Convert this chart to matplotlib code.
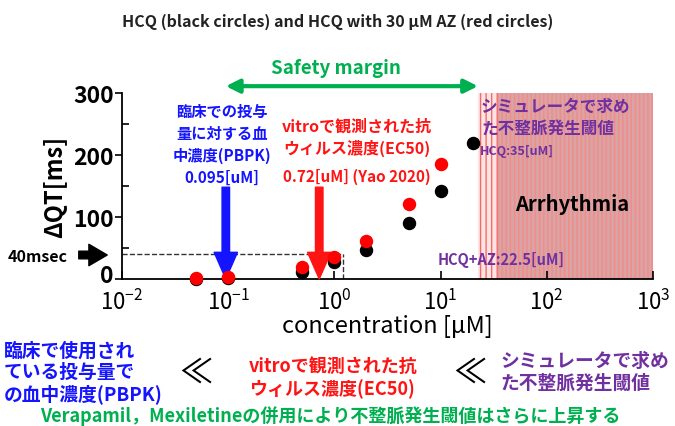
import matplotlib
matplotlib.use('Agg')
import matplotlib.pyplot as plt
import matplotlib.transforms as mtransforms
from matplotlib.ticker import FixedLocator

plt.rcParams['font.family'] = ['Noto Sans CJK JP', 'DejaVu Sans']

# QT prolongation vs concentration
conc_hcq = [0.05, 0.1, 0.5, 1, 2, 5, 10, 20]
dqt_hcq = [0, 1, 12, 27, 47, 90, 142, 219]
conc_az = [0.05, 0.1, 0.5, 1, 2, 5, 10]
dqt_az = [2, 3, 19, 36, 62, 121, 185]

pbpk_conc = 0.095
ec50_conc = 0.72
thr_hcq = 35
thr_az = 22.5
qt_limit = 40
xmax = 1000

BLUE = '#1414ff'
RED = '#ff1414'
PURPLE = '#7030a0'
GREEN = '#00b050'

fig = plt.figure(figsize=(6.75, 4.27), dpi=100)
ax = fig.add_axes([0.1807, 0.3443, 0.7867, 0.4356])


def fx(px):
    return px / 675


def fy(py):
    return 1 - py / 427


ax.set_xscale('log')
ax.set_xlim(0.01, xmax)
ax.set_ylim(0, 300)

# arrhythmia zones
ax.axvspan(thr_az, xmax, ymin=0, ymax=1, facecolor='#ffe4e4', edgecolor='#f26b6b',
           hatch='|||', lw=0, zorder=0)
ax.axvspan(thr_hcq, xmax, ymin=0, ymax=1, facecolor='#d8a4a4', edgecolor='#f58a8a',
           hatch='||||', lw=0, zorder=0)

ax.plot([0.01, 1.2], [qt_limit, qt_limit], ls='--', color='#333333', lw=1, zorder=1)
ax.plot([1.2, 1.2], [0, qt_limit], ls='--', color='#333333', lw=1, zorder=1)

ax.scatter(conc_hcq, dqt_hcq, s=75, color='black', zorder=3, clip_on=False)
ax.scatter(conc_az, dqt_az, s=75, color='red', zorder=4, clip_on=False)

ax.spines['top'].set_visible(False)
ax.spines['right'].set_visible(False)
ax.spines['left'].set_linewidth(1.3)
ax.spines['bottom'].set_linewidth(1.3)

ax.set_yticks([0, 100, 200, 300])
ax.yaxis.set_minor_locator(FixedLocator([50, 150, 250]))
ax.tick_params(axis='y', which='major', direction='out', length=5, width=1.2, labelsize=16.5, pad=1)
ax.tick_params(axis='y', which='minor', direction='in', length=5, width=1.2)
ax.set_xticks([1e-2, 1e-1, 1e0, 1e1, 1e2, 1e3])
ax.xaxis.set_minor_locator(FixedLocator([]))
ax.tick_params(axis='x', which='major', direction='in', length=6, width=1.2, labelsize=16, pad=7)
for lab in ax.get_yticklabels():
    lab.set_fontweight('bold')
# lift the "0" a little so it clears the 10^-2 label
zero_lab = ax.get_yticklabels()[0]
zero_lab.set_transform(zero_lab.get_transform() +
                       mtransforms.ScaledTranslation(0, 4 / 72, fig.dpi_scale_trans))

ax.set_xlabel('concentration [μM]', fontsize=17, labelpad=0)
ax.set_ylabel('ΔQT[ms]', fontsize=17, fontweight='bold', labelpad=4)

# title and safety margin
fig.text(fx(338), fy(22), 'HCQ (black circles) and HCQ with 30 μM AZ (red circles)',
         ha='center', va='center', fontsize=11.5, fontweight='bold', color='#222222')
fig.text(fx(336), fy(68), 'Safety margin', ha='center', va='center',
         fontsize=13.5, fontweight='bold', color=GREEN)
ax.annotate('', xy=(thr_az, 311), xytext=(pbpk_conc, 311), xycoords='data',
            arrowprops=dict(arrowstyle='<|-|>', color=GREEN, lw=3, mutation_scale=20,
                            shrinkA=0, shrinkB=0), annotation_clip=False)

# PBPK concentration
fig.text(fx(222), fy(145), '臨床での投与\n量に対する血\n中濃度(PBPK)\n0.095[uM]', ha='center',
         va='center', fontsize=11, fontweight='bold', color=BLUE, linespacing=1.45)
ax.annotate('', xy=(pbpk_conc, 0), xytext=(pbpk_conc, 148),
            arrowprops=dict(arrowstyle='simple,head_width=1.4,head_length=1.6,tail_width=0.45',
                            color=BLUE, mutation_scale=12, shrinkA=0, shrinkB=0))

# in vitro EC50
fig.text(fx(357), fy(138), 'vitroで観測された抗\nウィルス濃度(EC50)', ha='center', va='center',
         fontsize=11.5, fontweight='bold', color=RED, linespacing=1.35)
fig.text(fx(357), fy(177), '0.72[uM] (Yao 2020)', ha='center', va='center',
         fontsize=11, fontweight='bold', color=RED)
ax.annotate('', xy=(ec50_conc, 0), xytext=(ec50_conc, 148),
            arrowprops=dict(arrowstyle='simple,head_width=1.4,head_length=1.6,tail_width=0.45',
                            color=RED, mutation_scale=12, shrinkA=0, shrinkB=0))

# simulated thresholds
fig.text(fx(481), fy(118), 'シミュレータで求め\nた不整脈発生閾値', ha='left', va='center',
         fontsize=12, fontweight='bold', color=PURPLE, linespacing=1.3)
fig.text(fx(480), fy(152), 'HCQ:35[uM]', ha='left', va='center',
         fontsize=9, fontweight='bold', color=PURPLE)
fig.text(fx(565), fy(260), 'HCQ+AZ:22.5[uM]', ha='right', va='center',
         fontsize=10.5, fontweight='bold', color=PURPLE)
fig.text(fx(572), fy(205), 'Arrhythmia', ha='center', va='center',
         fontsize=14.5, fontweight='bold', color='black')

# 40 ms marker
fig.text(fx(8), fy(257), '40msec', ha='left', va='center', fontsize=11.5, fontweight='bold')
fig.add_artist(matplotlib.patches.FancyArrowPatch(
    (fx(76), fy(256)), (fx(110), fy(256)), transform=fig.transFigure,
    arrowstyle='simple,head_width=1.4,head_length=1.2,tail_width=0.5',
    mutation_scale=11, color='black'))

# summary line
fig.text(fx(4), fy(373), '臨床で使用され\nている投与量で\nの血中濃度(PBPK)', ha='left', va='center',
         fontsize=13.5, fontweight='bold', color=BLUE, linespacing=1.15)
fig.text(fx(196), fy(373), '≪', ha='center', va='center', fontsize=24, color='black')
fig.text(fx(249), fy(378), 'vitroで観測された抗\nウィルス濃度(EC50)', ha='left', va='center',
         fontsize=13, fontweight='bold', color=RED, linespacing=1.2)
fig.text(fx(470), fy(373), '≪', ha='center', va='center', fontsize=24, color='black')
fig.text(fx(500), fy(372), 'シミュレータで求め\nた不整脈発生閾値', ha='left', va='center',
         fontsize=13.5, fontweight='bold', color=PURPLE, linespacing=1.2)
fig.text(fx(330), fy(416), 'Verapamil，Mexiletineの併用により不整脈発生閾値はさらに上昇する',
         ha='center', va='center', fontsize=13, fontweight='bold', color=GREEN)

fig.savefig('out.png', dpi=100)
